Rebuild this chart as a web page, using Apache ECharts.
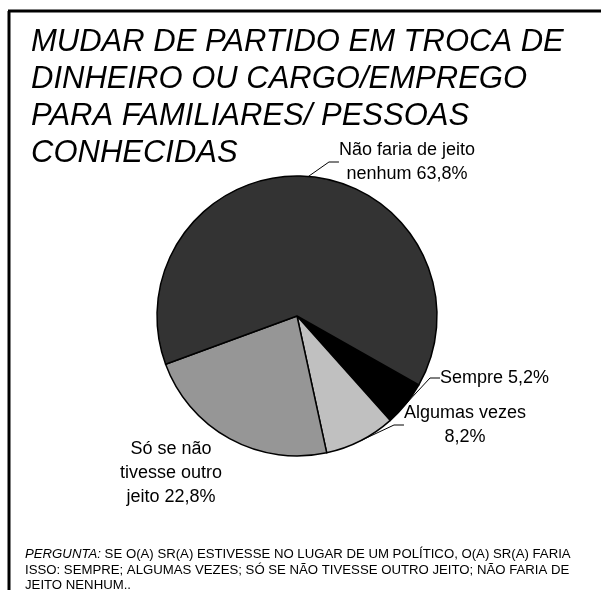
<!DOCTYPE html>
<html>
<head>
<meta charset="utf-8">
<script src="https://cdn.jsdelivr.net/npm/echarts@6/dist/echarts.min.js"></script>
<style>html,body{margin:0;padding:0;background:#fff}#c{width:601px;height:590px}</style>
</head>
<body>
<div id="c"></div>
<script>
const titleText = "MUDAR DE PARTIDO EM TROCA DE\nDINHEIRO OU CARGO/EMPREGO\nPARA FAMILIARES/ PESSOAS\nCONHECIDAS";
const categories = ["Sempre", "Algumas vezes\n", "Só se não\ntivesse outro\njeito", "Não faria de jeito\nnenhum"];
const values = [5.2, 8.2, 22.8, 63.8];
const colors = ["#000000", "#c0c0c0", "#969696", "#333333"];
const footnoteLead = "PERGUNTA:";
const footnoteText = " SE O(A) SR(A) ESTIVESSE NO LUGAR DE UM POLÍTICO, O(A) SR(A) FARIA\nISSO: SEMPRE; ALGUMAS VEZES; SÓ SE NÃO TIVESSE OUTRO JEITO; NÃO FARIA DE\nJEITO NENHUM..";

const labelPos = [
  {x: 440, y: 378, align: 'left'},
  {x: 465, y: 425, align: 'center'},
  {x: 171, y: 473, align: 'center'},
  {x: 407, y: 162, align: 'center'}
];

const chart = echarts.init(document.getElementById('c'), null, {renderer: 'canvas'});
const font = "'Liberation Sans', Arial, sans-serif";
chart.setOption({
  animation: false,
  backgroundColor: '#ffffff',
  title: [{
    text: titleText,
    left: 26, top: 19,
    textStyle: {fontFamily: font, fontStyle: 'italic', fontWeight: 'normal', fontSize: 31, lineHeight: 37, color: '#000'}
  }, {
    text: '{i|' + footnoteLead + '}' + footnoteText,
    left: 20, top: 542,
    textStyle: {
      fontFamily: font, fontSize: 13.2, lineHeight: 15.3, color: '#000', fontWeight: 'normal',
      rich: {i: {fontStyle: 'italic', fontFamily: font, fontSize: 13.2, color: '#000'}}
    }
  }],
  graphic: [
    {type: 'line', shape: {x1: 9, y1: 11, x2: 9, y2: 590}, style: {stroke: '#000', lineWidth: 3}},
    {type: 'line', shape: {x1: 8, y1: 11, x2: 601, y2: 11}, style: {stroke: '#000', lineWidth: 3}}
  ],
  series: [{
    type: 'pie',
    center: [297, 316],
    radius: 140,
    startAngle: -29.5,
    clockwise: true,
    avoidLabelOverlap: false,
    itemStyle: {borderColor: '#000', borderWidth: 1.5},
    label: {
      show: true,
      position: 'outside',
      fontFamily: font, fontSize: 18, lineHeight: 24, color: '#000', align: 'center',
      formatter: p => {
        const pct = p.value.toFixed(1).replace('.', ',') + '%';
        return p.name.endsWith('\n') ? p.name + pct : p.name + ' ' + pct;
      }
    },
    labelLine: {show: true, length: 12, length2: 10, lineStyle: {color: '#000', width: 1}},
    labelLayout: params => {
      const lp = labelPos[params.dataIndex];
      return {x: lp.x, y: lp.y, align: lp.align, verticalAlign: 'middle'};
    },
    data: categories.map((c, i) => ({
      name: c, value: values[i],
      itemStyle: {color: colors[i]},
      labelLine: i === 2 ? {show: false} : undefined
    }))
  }]
});
</script>
</body>
</html>
